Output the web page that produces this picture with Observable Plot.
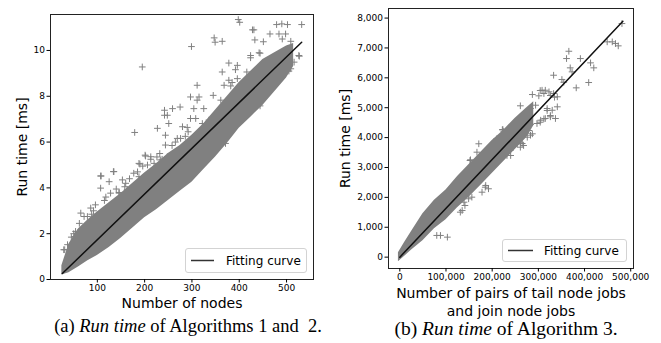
<!DOCTYPE html>
<html>
<head>
<meta charset="utf-8">
<script src="https://cdn.jsdelivr.net/npm/d3@7"></script>
<script src="https://cdn.jsdelivr.net/npm/@observablehq/plot@0.6"></script>
<style>
  body { margin: 0; background: #fff; }
  #wrap { position: relative; width: 661px; height: 343px; background: #fff; overflow: hidden; }
  .panel { position: absolute; top: 0; }
  .cap { position: absolute; font-family: "Liberation Serif", "Times New Roman", serif; font-size: 18.5px; white-space: pre; transform: translate(-50%, -50%); color: #000; line-height: 1; }
  .legend { position: absolute; border: 1px solid #d3d3d3; border-radius: 3px; background: rgba(255,255,255,0.85); font-family: "DejaVu Sans", sans-serif; font-size: 12px; box-sizing: border-box; color: #000; }
  .legend svg { position: absolute; left: 0; top: 0; }
  .legend span { position: absolute; white-space: nowrap; line-height: 1; transform: translateY(-50%); }
</style>
</head>
<body>
<div id="wrap"></div>
<script>
// ---------- Panel (a): Algorithms 1 and 2 ----------
const aXTicks = [100, 200, 300, 400, 500];
const aYTicks = [0, 2, 4, 6, 8, 10];
const aXLabel = "Number of nodes";
const aYLabel = "Run time [ms]";
const aCaptionPrefix = "(a) ";
const aCaptionItalic = "Run time";
const aCaptionRest = " of Algorithms 1 and\u00a0 2.";
// dense band of points (envelope)
const aBandX    = [25, 40, 60, 80, 100, 125, 150, 175, 200, 225, 250, 275, 300, 325, 350, 375, 400, 425, 450, 475, 500, 515];
const aBandLow  = [0.2, 0.3, 0.55, 0.82, 1.05, 1.4, 1.8, 2.25, 2.7, 3.05, 3.45, 3.85, 4.25, 4.8, 5.35, 5.95, 6.6, 7.1, 7.6, 8.2, 8.8, 9.3];
const aBandHigh = [0.6, 1.55, 2.2, 2.6, 2.95, 3.35, 3.75, 4.2, 4.65, 5.05, 5.5, 5.85, 6.3, 6.8, 7.4, 8.0, 8.6, 9.1, 9.6, 9.9, 10.2, 10.3];
// scattered points
const aPtsX = [398,401,479,490,502,532,431,465,484,498,347,364,349,433,451,491,509,299,444,424,526,378,396,195,364,392,416,516,509,502,311,378,368,396,297,315,311,345,361,242,259,275,242,248,304,325,297,308,227,251,322,336,280,290,179,244,371,269,276,201,213,188,107,135,237,248,107,125,146,149,96,86,65,79,58,29,37,385,382,459,444,505,494,424,442,527,428,
  244,202,213,190,206,108,134,153,160,128,146,72,54,52,31,220,234,177,188,163,170,
  45,50,62,88,92,115,118,140,158,168,185,196,226,232,258,265,286,292];
const aPtsY = [11.35,11.23,11.13,11.16,11.13,11.13,10.9,10.72,10.72,10.72,10.55,10.4,10.36,10.46,10.38,10.5,10.4,10.17,9.88,9.78,9.78,9.45,9.35,9.28,9.06,9.16,9.06,9.49,9.2,9.13,8.48,8.7,8.48,8.77,7.97,7.97,7.83,8.04,7.83,7.39,7.46,7.53,7.17,7.17,7.46,7.46,7.03,7.03,6.6,6.81,6.81,6.96,6.67,6.64,6.42,6.3,5.94,6.16,6.16,5.43,5.36,5.07,4.52,4.71,5.25,5.36,3.99,4.27,3.77,3.4,3.26,3.12,2.9,2.75,2.03,1.3,1.52,8.6,8.45,8.16,7.58,9.1,9.47,9.68,9.9,9.75,10.9,
  5.87,5.39,5.25,5.04,5.0,4.52,4.71,4.35,4.2,3.77,3.8,2.75,2.1,1.88,1.3,5.07,5.22,4.64,4.49,3.91,3.77,
  1.85,2.0,2.45,2.85,3.0,3.45,3.6,3.95,4.05,4.4,4.7,4.95,5.35,5.5,5.85,6.0,6.25,6.45];
const aFitX = [26, 532];
const aFitY = [0.26, 10.36];

// ---------- Panel (b): Algorithm 3 ----------
const bXTicks = [0, 100000, 200000, 300000, 400000, 500000];
const bYTicks = [0, 1000, 2000, 3000, 4000, 5000, 6000, 7000, 8000];
const bXLabel1 = "Number of pairs of tail node jobs";
const bXLabel2 = "and join node jobs";
const bYLabel = "Run time [ms]";
const bCaptionPrefix = "(b) ";
const bCaptionItalic = "Run time";
const bCaptionRest = " of Algorithm 3.";
const bBandX    = [-3000, 10000, 25000, 50000, 75000, 100000, 125000, 150000, 175000, 200000, 225000, 250000, 275000, 290000];
const bBandLow  = [-150, 20, 230, 550, 950, 1250, 1650, 2000, 2400, 2800, 3200, 3600, 4000, 4400];
const bBandHigh = [150, 480, 850, 1450, 1900, 2250, 2700, 3100, 3500, 3900, 4250, 4650, 5000, 5200];
const bPtsX = [481000,449000,460000,467000,473000,366000,361000,391000,413000,420000,369000,373000,333000,351000,409000,382000,308000,315000,287000,301000,312000,323000,333000,341000,261000,283000,294000,319000,330000,341000,326000,315000,337000,305000,297000,243000,225000,250000,268000,203000,214000,265000,283000,355000,304000,326000,335000,319000,326000,312000,304000,268000,283000,279000,287000,223000,171000,254000,261000,152000,185000,192000,178000,156000,149000,131000,80000,210000,214000,232000,239000,141000,135000,103000,88000,222000,153000,164000,186000,139000,222000,229000,240000,261000,268000,276000,167000];
const bPtsY = [7816,7204,7204,7147,7070,6890,6645,6645,6501,6334,6334,6200,6087,5943,5843,5665,5585,5585,5441,5398,5475,5532,5475,5365,5064,4973,5084,4973,4916,5030,4696,4639,4639,4582,4472,4304,4214,4137,4080,3769,3803,3803,4080,5853,5575,5408,5351,4906,4739,4629,4515,4515,4438,4237,4127,4271,3793,3793,3679,3234,2341,2288,2174,2007,1953,1505,726,3960,3234,3401,3569,1729,1562,669,726,4261,3257,3177,2398,1839,3458,3569,3401,3846,3736,4013,3512];
const bFitX = [0, 483000];
const bFitY = [0, 7890];

const legendLabel = "Fitting curve";
const pointColor = "#808080";

function panel(o) {
  const band = o.bandX.map((x, i) => ({x, lo: o.bandLow[i], hi: o.bandHigh[i]}));
  const pts = o.ptsX.map((x, i) => ({x, y: o.ptsY[i]}));
  const fit = o.fitX.map((x, i) => ({x, y: o.fitY[i]}));
  const marks = [
    Plot.areaY(band, {x: "x", y1: "lo", y2: "hi", fill: pointColor}),
    Plot.dot(pts, {x: "x", y: "y", symbol: "plus", r: 2.3, stroke: pointColor, strokeWidth: 1}),
    Plot.line(fit, {x: "x", y: "y", stroke: "#111", strokeWidth: 1.5}),
    Plot.frame({stroke: "#222"}),
    Plot.axisX(o.xTicks, {tickSize: 3.5, tickPadding: 2, tickFormat: o.fmt, label: null, fontSize: 9}),
    Plot.axisY(o.yTicks, {tickSize: 3.5, tickPadding: 2, tickFormat: o.fmt, label: null, fontSize: 9}),
    Plot.text([o.yLabel], {text: d => d, frameAnchor: "left", rotate: -90, dx: o.yLabelDx, fontSize: 14, textAnchor: "middle", lineAnchor: "middle"})
  ];
  o.xLabels.forEach((t, i) => {
    marks.push(Plot.text([t], {text: d => d, frameAnchor: "bottom", dy: o.xLabelDy[i], fontSize: 14, textAnchor: "middle", lineAnchor: "middle"}));
  });
  return Plot.plot({
    width: o.width, height: o.height,
    marginLeft: o.ml, marginRight: o.mr, marginTop: o.mt, marginBottom: o.mb,
    x: {domain: o.xDomain},
    y: {domain: o.yDomain},
    style: {fontFamily: "DejaVu Sans, sans-serif", fontSize: "9px", color: "#000", background: "transparent", overflow: "visible"},
    marks
  });
}

const wrap = document.getElementById("wrap");

const svgA = panel({
  width: 330, height: 343, ml: 50, mr: 17, mt: 14, mb: 64,
  xDomain: [1, 557], yDomain: [0, 11.57],
  xTicks: aXTicks, yTicks: aYTicks, fmt: d3.format("d"),
  bandX: aBandX, bandLow: aBandLow, bandHigh: aBandHigh,
  ptsX: aPtsX, ptsY: aPtsY, fitX: aFitX, fitY: aFitY,
  yLabel: aYLabel, yLabelDx: -28, xLabels: [aXLabel], xLabelDy: [24]
});
svgA.classList.add("panel");
svgA.style.left = "0px";
wrap.appendChild(svgA);

const svgB = panel({
  width: 331, height: 343, ml: 58, mr: 28, mt: 8, mb: 75,
  xDomain: [-24500, 506000], yDomain: [-380, 8320],
  xTicks: bXTicks, yTicks: bYTicks, fmt: d3.format(","),
  bandX: bBandX, bandLow: bBandLow, bandHigh: bBandHigh,
  ptsX: bPtsX, ptsY: bPtsY, fitX: bFitX, fitY: bFitY,
  yLabel: bYLabel, yLabelDx: -43, xLabels: [bXLabel1, bXLabel2], xLabelDy: [25, 43]
});
svgB.classList.add("panel");
svgB.style.left = "330px";
wrap.appendChild(svgB);

function legend(left, top, w, h, lineX1, lineX2, textX) {
  const div = document.createElement("div");
  div.className = "legend";
  Object.assign(div.style, {left: left + "px", top: top + "px", width: w + "px", height: h + "px"});
  const ns = "http://www.w3.org/2000/svg";
  const s = document.createElementNS(ns, "svg");
  s.setAttribute("width", w); s.setAttribute("height", h);
  const ln = document.createElementNS(ns, "line");
  ln.setAttribute("x1", lineX1); ln.setAttribute("x2", lineX2);
  ln.setAttribute("y1", h / 2 - 1); ln.setAttribute("y2", h / 2 - 1);
  ln.setAttribute("stroke", "#333"); ln.setAttribute("stroke-width", 1.5);
  s.appendChild(ln);
  div.appendChild(s);
  const sp = document.createElement("span");
  sp.textContent = legendLabel;
  sp.style.left = textX + "px";
  sp.style.top = (h / 2 - 1) + "px";
  div.appendChild(sp);
  wrap.appendChild(div);
}
legend(185, 248, 122, 25, 5, 28, 40);
legend(502, 239, 125, 23, 5, 30, 41);

function caption(cx, cy, prefix, ital, rest, size) {
  const d = document.createElement("div");
  d.className = "cap";
  d.style.left = cx + "px"; d.style.top = cy + "px";
  d.style.fontSize = size + "px";
  d.appendChild(document.createTextNode(prefix));
  const i = document.createElement("i");
  i.textContent = ital;
  d.appendChild(i);
  d.appendChild(document.createTextNode(rest));
  wrap.appendChild(d);
}
caption(188, 326, aCaptionPrefix, aCaptionItalic, aCaptionRest, 18.5);
caption(506, 329, bCaptionPrefix, bCaptionItalic, bCaptionRest, 19.5);
</script>
</body>
</html>
